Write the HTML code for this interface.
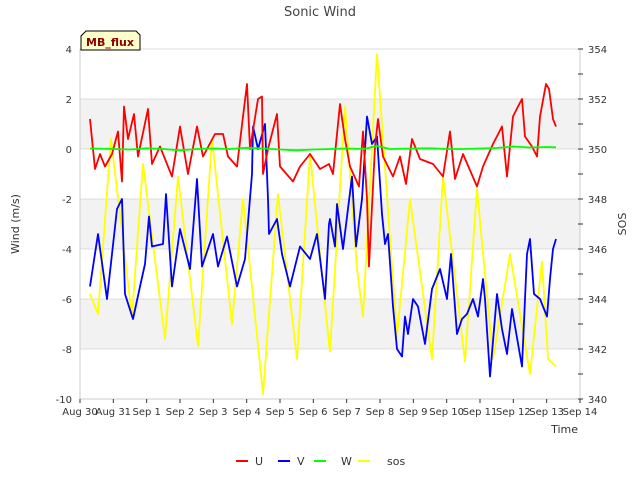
<!DOCTYPE html>
<html><head><meta charset="utf-8"><style>
body{margin:0;background:#fff;font-family:"Liberation Sans",sans-serif;}
svg text{font-family:"DejaVu Sans","Liberation Sans",sans-serif;}
</style></head><body>
<svg id="chart" width="640" height="480" xmlns="http://www.w3.org/2000/svg">
<text x="320" y="16" text-anchor="middle" font-size="13" fill="#444">Sonic Wind</text>
<g id="plot"></g>
</svg>
<script>
const xTickLabels=["Aug 30","Aug 31","Sep 1","Sep 2","Sep 3","Sep 4","Sep 5","Sep 6","Sep 7","Sep 8","Sep 9","Sep 10","Sep 11","Sep 12","Sep 13","Sep 14"];
const leftTicks=[4,2,0,-2,-4,-6,-8,-10];
const rightTicks=[354,352,350,348,346,344,342,340];
const uTime=[0.3,0.45,0.6,0.75,0.96,1.14,1.26,1.32,1.44,1.62,1.74,2.04,2.16,2.4,2.76,3.0,3.24,3.51,3.69,4.05,4.29,4.44,4.71,4.89,5.01,5.1,5.34,5.46,5.49,5.64,5.91,6.0,6.39,6.6,6.9,7.2,7.47,7.59,7.8,7.95,8.1,8.37,8.49,8.61,8.67,8.76,8.85,8.94,9.09,9.39,9.6,9.78,9.96,10.2,10.59,10.89,11.1,11.25,11.49,11.91,12.09,12.39,12.66,12.81,12.99,13.14,13.26,13.35,13.56,13.71,13.8,13.98,14.07,14.19,14.28];
const uVals=[1.2,-0.8,-0.2,-0.7,-0.2,0.7,-1.3,1.7,0.4,1.4,-0.3,1.6,-0.6,0.1,-1.1,0.9,-1.0,0.9,-0.3,0.6,0.6,-0.3,-0.7,1.3,2.6,0,2.0,2.1,-1.0,0,1.4,-0.7,-1.3,-0.7,-0.2,-0.8,-0.6,-1.0,1.8,0.4,-0.7,-1.5,0.7,-2.0,-4.7,-2.3,0.1,1.2,-0.3,-1.1,-0.3,-1.4,0.4,-0.4,-0.6,-1.1,0.7,-1.2,-0.2,-1.5,-0.7,0.2,0.9,-1.1,1.3,1.7,2.0,0.5,0.1,-0.3,1.3,2.6,2.4,1.2,0.9];
const vTime=[0.3,0.54,0.81,1.11,1.26,1.35,1.59,1.8,1.95,2.07,2.16,2.49,2.58,2.76,3.0,3.3,3.51,3.66,3.99,4.14,4.41,4.71,4.95,5.16,5.19,5.34,5.55,5.64,5.67,5.91,6.06,6.3,6.6,6.9,7.11,7.35,7.47,7.5,7.65,7.71,7.89,8.16,8.28,8.46,8.61,8.76,8.91,9.06,9.15,9.24,9.39,9.51,9.66,9.75,9.84,9.99,10.14,10.35,10.56,10.8,11.01,11.13,11.31,11.46,11.61,11.79,11.94,12.09,12.15,12.3,12.51,12.66,12.81,12.96,13.26,13.41,13.5,13.62,13.8,14.01,14.1,14.19,14.28];
const vVals=[-5.5,-3.4,-6,-2.4,-2,-5.8,-6.8,-5.5,-4.6,-2.7,-3.9,-3.8,-1.8,-5.5,-3.2,-4.8,-1.2,-4.7,-3.4,-4.7,-3.5,-5.5,-4.4,-1,0.9,0,1.0,-2,-3.4,-2.8,-4.2,-5.5,-3.9,-4.4,-3.4,-6,-3,-2.8,-3.9,-2.2,-4,-1.1,-3.9,-2,1.3,0.2,0.5,-2.6,-3.8,-3.4,-6.3,-8,-8.3,-6.7,-7.4,-6,-6.3,-7.8,-5.6,-4.8,-6,-4.2,-7.4,-6.8,-6.6,-6,-6.7,-5.2,-6,-9.1,-5.8,-7.2,-8.2,-6.4,-8.7,-4.2,-3.6,-5.8,-6,-6.7,-5.2,-4,-3.6];
const wTime=[0.3,1,1.5,2,2.5,3,3.5,4,4.5,5,5.5,6,6.5,7,7.5,8,8.5,8.91,9.3,10,10.5,11,11.5,12,12.5,13,13.5,14,14.28];
const wVals=[0.02,0.0,-0.02,0.03,0.0,-0.05,0.0,0.02,0.0,0.05,0.02,-0.02,-0.05,-0.02,0.0,0.02,0.0,0.12,0.0,0.02,0.03,0.0,0.0,0.02,0.04,0.1,0.06,0.08,0.07];
const sTime=[0.3,0.54,0.93,1.56,1.89,2.55,2.94,3.54,3.96,4.56,4.89,5.49,5.94,6.51,6.9,7.47,7.5,7.95,8.31,8.49,8.91,9.51,9.9,10.56,10.89,11.55,11.91,12.39,12.9,13.5,13.86,14.04,14.28];
const sVals=[344.2,343.4,350.4,343.3,349.4,342.4,348.9,342.1,350.4,343,348,340.2,348.2,341.6,349.8,342.2,341.9,351.7,345.2,343.3,353.8,342.5,348,341.6,348.9,341.5,348.4,341.6,345.8,341,345.5,341.6,341.3];

const NS="http://www.w3.org/2000/svg";
const L=80,R=580,T=49,B=399;
const xs=d=>L+d*(R-L)/15;
const yl=v=>T+(4-v)*(B-T)/14;
const yr=v=>T+(354-v)*(B-T)/14;
const g=document.getElementById('plot');
function mk(tag,attrs,parent){const e=document.createElementNS(NS,tag);for(const k in attrs)e.setAttribute(k,attrs[k]);(parent||g).appendChild(e);return e;}
// bands
[[2,0],[-2,-4],[-6,-8]].forEach(b=>{
 const r=mk('rect',{x:L,y:yl(b[0]),width:R-L,height:yl(b[1])-yl(b[0]),fill:'#f2f2f2'});
 
 
});
leftTicks.forEach(v=>{
 const ln=mk('line',{x1:L,x2:R,y1:yl(v),y2:yl(v),stroke:'#dcdcdc','stroke-width':1});
 
 
 const t=mk('text',{x:L-8,y:yl(v)+4,'text-anchor':'end','font-size':10,fill:'#333'});
 t.textContent=v;
 
 
});
mk('line',{x1:L,x2:L,y1:T,y2:B,stroke:'#ccc'});
mk('line',{x1:R,x2:R,y1:T,y2:B,stroke:'#ccc'});
mk('line',{x1:L,x2:R,y1:B,y2:B,stroke:'#ccc'});
rightTicks.forEach(v=>{
 const t=mk('text',{x:R+8,y:yr(v)+4,'text-anchor':'start','font-size':10,fill:'#333'});
 t.textContent=v;
 
 
});
for(let v=340;v<=354;v++){mk('line',{x1:R-2,x2:R+3,y1:yr(v),y2:yr(v),stroke:'#333'});}
xTickLabels.forEach((lab,i)=>{
 mk('line',{x1:xs(i),x2:xs(i),y1:B,y2:B+4,stroke:'#333'});
 const t=mk('text',{x:xs(i),y:B+16,'text-anchor':'middle','font-size':10,fill:'#333'});
 t.textContent=lab;
 
 
});
function series(times,vals,yf,color,name){
 const d=times.map((t,i)=>(i?'L':'M')+xs(t).toFixed(1)+','+yf(vals[i]).toFixed(1)).join(' ');
 const p=mk('path',{d:d,fill:'none',stroke:color,'stroke-width':1.8,'stroke-linejoin':'round'});
 
 
}
series(sTime,sVals,yr,'#ffff00','sos-line');
series(vTime,vVals,yl,'#0000ff','v-line');
series(uTime,uVals,yl,'#ff0000','u-line');
series(wTime,wVals,yl,'#00ff00','w-line');
</script>
<svg style="position:absolute;left:0;top:0" width="640" height="480" xmlns="http://www.w3.org/2000/svg">
<text x="19" y="224" transform="rotate(-90 19 224)" text-anchor="middle" font-size="11" fill="#333">Wind (m/s)</text>
<text x="626" y="224" transform="rotate(-90 626 224)" text-anchor="middle" font-size="11" fill="#333">SOS</text>
<text x="578" y="433" text-anchor="end" font-size="11" fill="#333">Time</text>
<path d="M86,31 L136,31 L140,35 L140,50 L81,50 L81,36 Z" fill="#ffffcc" stroke="#000"/>
<text x="110" y="46" text-anchor="middle" font-size="11" font-weight="bold" fill="#8b0000">MB_flux</text>
<g font-size="11" fill="#333">
<line x1="236" x2="248" y1="461" y2="461" stroke="#ff0000" stroke-width="2"/>
<text x="255" y="465">U</text>
<line x1="278" x2="290" y1="461" y2="461" stroke="#0000ff" stroke-width="2"/>
<text x="297" y="465">V</text>
<line x1="314" x2="326" y1="461" y2="461" stroke="#00ff00" stroke-width="2"/>
<text x="341" y="465">W</text>
<line x1="358" x2="370" y1="461" y2="461" stroke="#ffff00" stroke-width="2"/>
<text x="387" y="465">sos</text>
</g>
</svg>
</body></html>
